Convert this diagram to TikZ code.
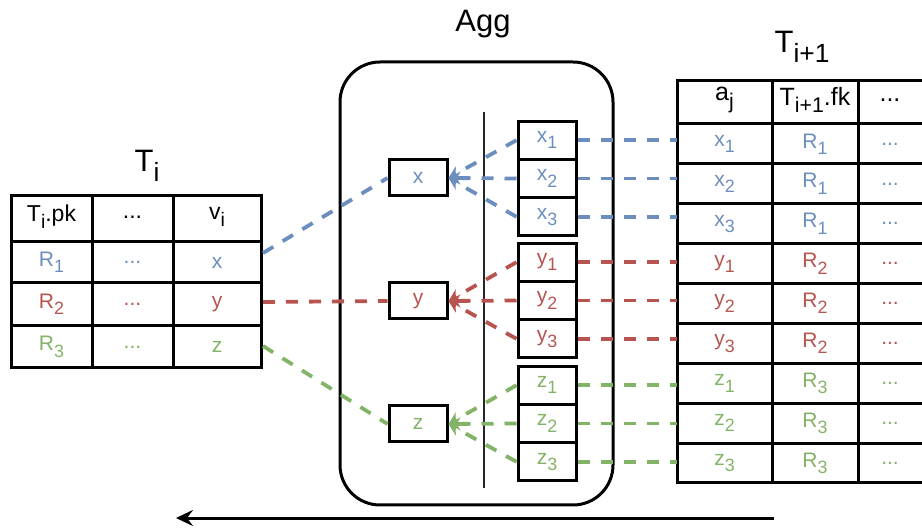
\documentclass[tikz,border=0pt]{standalone}
\usepackage{fontspec}
\setmainfont{Liberation Sans}
\usetikzlibrary{arrows.meta}
\definecolor{cblue}{HTML}{6C8EBF}
\definecolor{cred}{HTML}{B85450}
\definecolor{cgreen}{HTML}{82B366}
% lowered, reduced index text
\newcommand\lo[1]{\raisebox{-0.3em}{\scalebox{0.85}{#1}}}

\begin{document}
\begin{tikzpicture}[x=1pt,y=-1pt,
  grid/.style={line width=3pt},
  cell/.style={inner sep=0pt, font=\fontsize{21}{25}\selectfont},
  lhead/.style={inner sep=0pt, font=\fontsize{23}{27}\selectfont},
  headcell/.style={inner sep=0pt, font=\fontsize{25}{29}\selectfont},
  title/.style={inner sep=0pt, anchor=base, font=\fontsize{31}{35}\selectfont},
  valbox/.style={draw=black, line width=3pt, minimum width=58pt, minimum height=36pt,
                 inner sep=0pt, font=\fontsize{21}{25}\selectfont},
  stackbox/.style={draw=black, line width=3pt, minimum width=58pt, minimum height=38.3pt,
                 inner sep=0pt, font=\fontsize{21}{25}\selectfont},
  link/.style={line width=3.8pt, dash pattern=on 12pt off 11pt},
  tip/.style={-{Stealth[length=12pt,width=13pt,inset=4pt]}}
]
\useasboundingbox (0,0) rectangle (922,529);

% ---------- titles ----------
\node[title] (tti)  at (147,172) {T\lo{i}};
\node[title] (tagg) at (483,32)  {Agg};
\node[title] (ttn)  at (802,53)  {T\lo{i+1}};

% ---------- left table T_i ----------
\draw[grid] (11,196) rectangle (261,368);
\foreach \y in {242,283,326} \draw[grid] (11,\y) -- (261,\y);
\foreach \x in {92,173} \draw[grid] (\x,196) -- (\x,368);

\node[lhead] (lh1) at (51.5,217) {T\lo{i}.pk};
\node[lhead] (lh2) at (132.5,217) {...};
\node[lhead] (lh3) at (217,217) {v\lo{i}};

\node[cell,text=cblue]  (lr1) at (51.5,262.5) {R\lo{1}};
\node[cell,text=cblue]  (ld1) at (132.5,262.5) {...};
\node[cell,text=cblue]  (lv1) at (217,262.5) {x};
\node[cell,text=cred]   (lr2) at (51.5,304.5) {R\lo{2}};
\node[cell,text=cred]   (ld2) at (132.5,304.5) {...};
\node[cell,text=cred]   (lv2) at (217,304.5) {y};
\node[cell,text=cgreen] (lr3) at (51.5,347) {R\lo{3}};
\node[cell,text=cgreen] (ld3) at (132.5,347) {...};
\node[cell,text=cgreen] (lv3) at (217,347) {z};

\coordinate (lout1) at (263,253);
\coordinate (lout2) at (263,302);
\coordinate (lout3) at (263,346);

% ---------- aggregation block ----------
\node[draw, line width=3pt, rounded corners=40pt, minimum width=273pt,
      minimum height=443pt, inner sep=0pt] (agg) at (476.5,283.5) {};
\coordinate (septop) at (484,112);
\coordinate (sepbot) at (484,488);
\draw[line width=2.8pt, black!85] (septop) -- (sepbot);

\node[valbox,text=cblue]  (ax) at (418,178) {x};
\node[valbox,text=cred]   (ay) at (418,301) {y};
\node[valbox,text=cgreen] (az) at (418,424) {z};

\node[stackbox,text=cblue]  (sx1) at (547,140.2) {x\lo{1}};
\node[stackbox,text=cblue]  (sx2) at (547,178.5) {x\lo{2}};
\node[stackbox,text=cblue]  (sx3) at (547,216.8) {x\lo{3}};
\node[stackbox,text=cred]   (sy1) at (547,262.2) {y\lo{1}};
\node[stackbox,text=cred]   (sy2) at (547,300.5) {y\lo{2}};
\node[stackbox,text=cred]   (sy3) at (547,338.8) {y\lo{3}};
\node[stackbox,text=cgreen] (sz1) at (547,385.2) {z\lo{1}};
\node[stackbox,text=cgreen] (sz2) at (547,423.5) {z\lo{2}};
\node[stackbox,text=cgreen] (sz3) at (547,461.8) {z\lo{3}};

% ---------- right table T_{i+1} ----------
\draw[grid] (923,81) -- (677,81) -- (677,483) -- (923,483);
\foreach \k in {0,...,8} \draw[grid] (677,124+39.9*\k) -- (923,124+39.9*\k);
\foreach \x in {772,858} \draw[grid] (\x,81) -- (\x,483);
\coordinate (rw) at (677,0);

\node[headcell] (rh1) at (724.5,100) {a\lo{j}};
\node[headcell] (rh2) at (815,100) {T\lo{i+1}.fk};
\node[headcell] (rh3) at (890,100) {...};

\foreach \k/\a/\r/\c in {0/x\lo{1}/R\lo{1}/cblue, 1/x\lo{2}/R\lo{1}/cblue, 2/x\lo{3}/R\lo{1}/cblue,
                         3/y\lo{1}/R\lo{2}/cred,  4/y\lo{2}/R\lo{2}/cred,  5/y\lo{3}/R\lo{2}/cred,
                         6/z\lo{1}/R\lo{3}/cgreen,7/z\lo{2}/R\lo{3}/cgreen,8/z\lo{3}/R\lo{3}/cgreen}{
  \node[cell,text=\c] (ra\k) at (724.5,144+39.9*\k) {\a};
  \node[cell,text=\c] (rf\k) at (815,144+39.9*\k) {\r};
  \node[cell,text=\c] (rd\k) at (890,144+39.9*\k) {...};
}

% ---------- connectors ----------
\foreach \s/\c in {sx1/cblue,sx2/cblue,sx3/cblue,sy1/cred,sy2/cred,sy3/cred,
                   sz1/cgreen,sz2/cgreen,sz3/cgreen}
  \draw[link,\c] (\s.east) -- (\s.east -| rw);

\foreach \s in {sx1,sx2,sx3} \draw[link,cblue,tip] (\s.west) -- (ax.east);
\foreach \s in {sy1,sy2,sy3} \draw[link,cred,tip] (\s.west) -- (ay.east);
\foreach \s in {sz1,sz2,sz3} \draw[link,cgreen,tip] (\s.west) -- (az.east);

\draw[link,cblue]  (lout1) -- (ax.west);
\draw[link,cred]   (lout2) -- (ay.west);
\draw[link,cgreen] (lout3) -- (az.west);

% ---------- direction of processing ----------
\coordinate (flowstart) at (774,518);
\coordinate (flowend) at (176,518);
\draw[line width=3pt, -{Stealth[length=17pt,width=16pt,inset=6pt]}] (flowstart) -- (flowend);
\end{tikzpicture}
\end{document}
